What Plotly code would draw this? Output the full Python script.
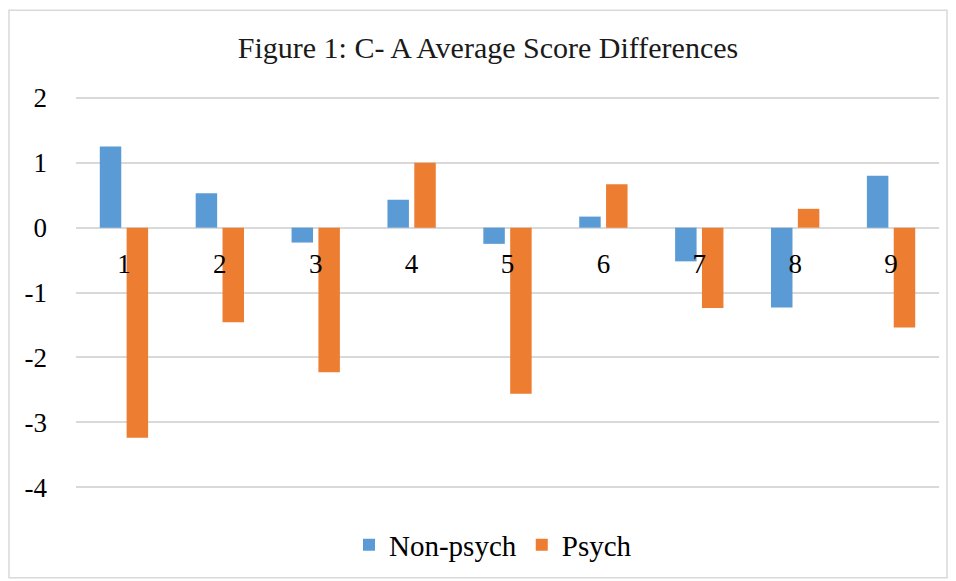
import plotly.graph_objects as go

categories = ["1", "2", "3", "4", "5", "6", "7", "8", "9"]
non_psych = [1.25, 0.53, -0.23, 0.43, -0.25, 0.17, -0.52, -1.23, 0.80]
psych = [-3.24, -1.46, -2.23, 1.00, -2.56, 0.67, -1.24, 0.29, -1.54]
y_ticks = [2, 1, 0, -1, -2, -3, -4]

FONT = "Liberation Serif"
Y0, Y1 = -4.06, 2.06
TOP, BOT = 94, 492  # plot area pixel bounds
LEFT, RIGHT = 76, 939

fig = go.Figure()
fig.add_trace(go.Bar(x=categories, y=non_psych, name="Non-psych",
                     marker=dict(color="#5B9BD5", line=dict(width=0))))
fig.add_trace(go.Bar(x=categories, y=psych, name="Psych",
                     marker=dict(color="#ED7D31", line=dict(width=0))))

H = BOT - TOP
W = RIGHT - LEFT
fig.update_layout(
    width=956, height=581,
    margin=dict(l=LEFT, r=956 - RIGHT, t=TOP, b=581 - BOT),
    paper_bgcolor="white", plot_bgcolor="white",
    barmode="group", bargap=0.44, bargroupgap=0.2,
    font=dict(family=FONT, size=26, color="#000000"),
    title=dict(text="Figure 1: C- A Average Score Differences",
               x=488 / 956, xref="container", xanchor="center",
               y=1 - 47 / 581, yref="container", yanchor="middle",
               font=dict(family=FONT, size=30, color="#1a1a1a")),
    xaxis=dict(type="category", anchor="free", position=(0 - Y0) / (Y1 - Y0),
               showline=False, ticks="", showgrid=False, zeroline=False,
               ticklabelstandoff=17, tickfont=dict(size=27)),
    yaxis=dict(range=[Y0, Y1], tickvals=y_ticks,
               ticktext=[str(v) for v in y_ticks],
               showgrid=True, gridcolor="#d9d9d9", gridwidth=1.5,
               zeroline=True, zerolinecolor="#d9d9d9", zerolinewidth=1.5,
               showline=False, ticks="", ticklabelstandoff=28,
               tickfont=dict(size=27)),
    legend=dict(orientation="h", x=(493 - LEFT) / W, xanchor="center",
                y=(BOT - 545) / H, yanchor="middle",
                font=dict(size=29), itemwidth=30, traceorder="normal"),
    showlegend=True,
    shapes=[dict(type="rect", xref="paper", yref="paper",
                 x0=(9 - LEFT) / W, x1=(947 - LEFT) / W,
                 y0=(BOT - 579) / H, y1=(BOT - 10) / H,
                 line=dict(color="#d9d9d9", width=1.5), layer="below")],
)

fig.write_html("out.html", config={"displayModeBar": False},
               post_script="document.body.style.margin='0';document.body.style.overflow='hidden';")
